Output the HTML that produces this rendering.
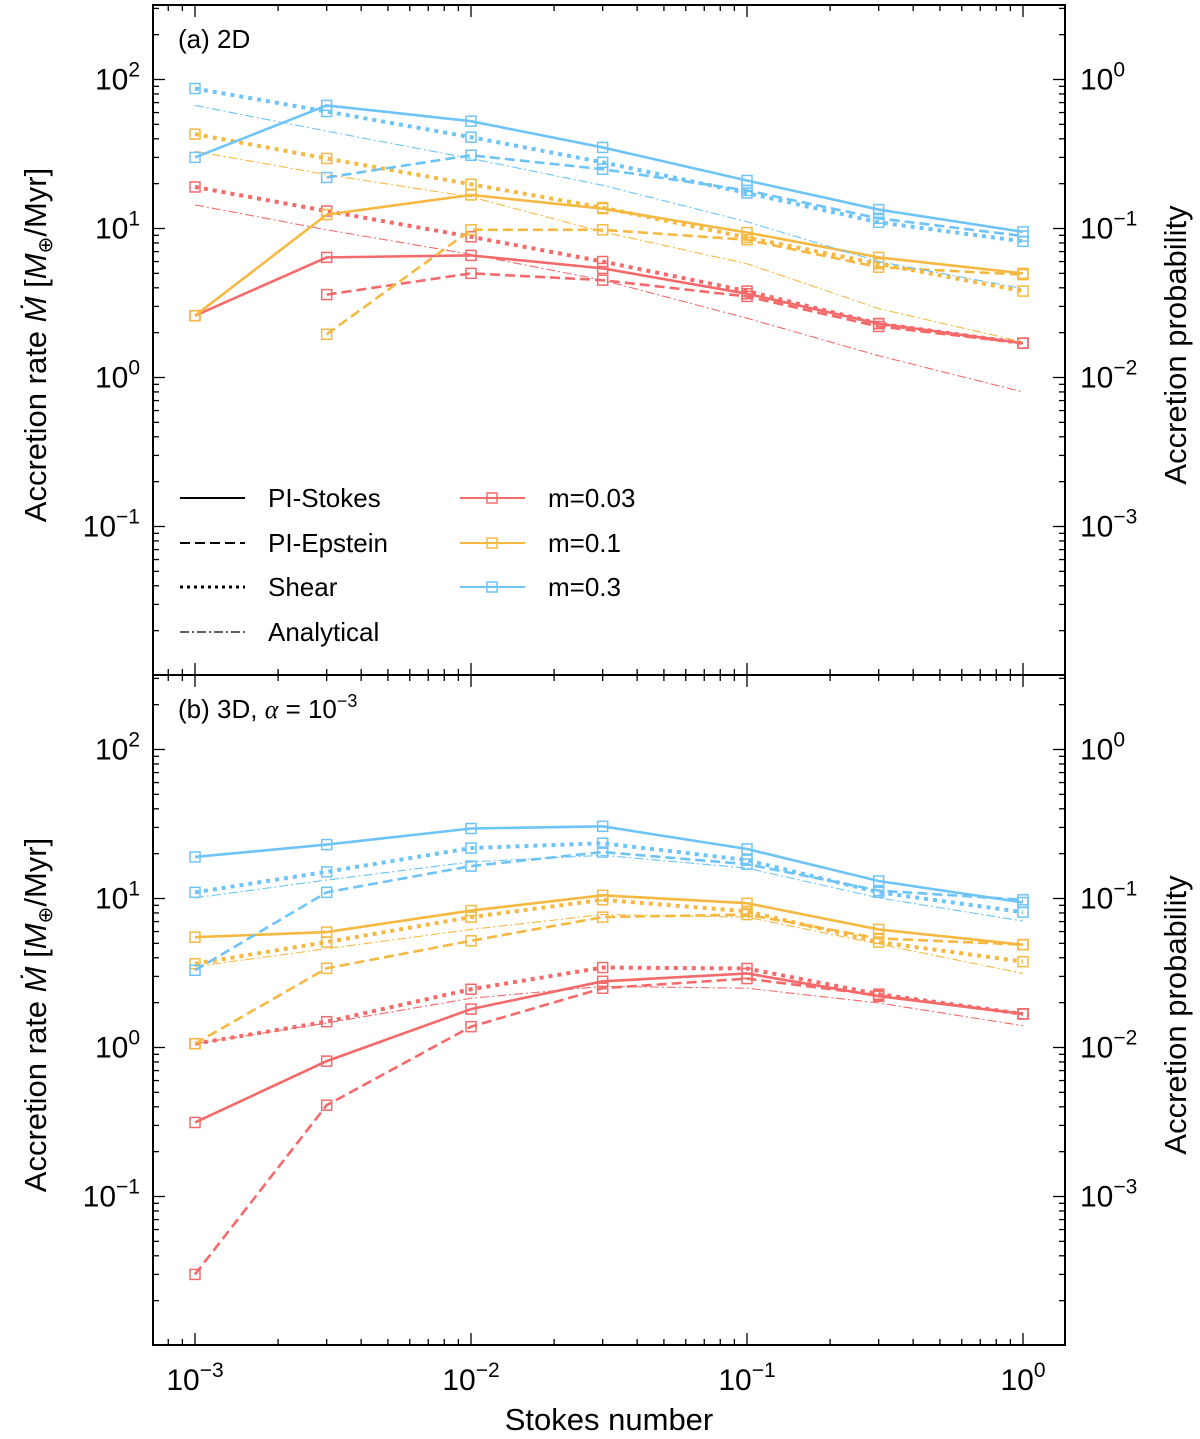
<!DOCTYPE html>
<html><head><meta charset="utf-8">
<style>
body{margin:0;background:#fff;}
svg{display:block;font-family:"Liberation Sans","DejaVu Sans",sans-serif;}
</style></head>
<body>
<svg id="chart" width="1200" height="1439" viewBox="0 0 1200 1439" xmlns="http://www.w3.org/2000/svg"></svg>
<script>
const stokes = [0.001, 0.003, 0.01, 0.03, 0.1, 0.3, 1];
// Panel a (2D)
const a_red_stokes = [2.6, 6.4, 6.6, 5.4, 3.65, 2.3, 1.7];
const a_red_epstein = [null, 3.6, 5.0, 4.5, 3.5, 2.2, 1.7];
const a_red_shear = [19, 13.1, 8.8, 6.0, 3.8, 2.3, 1.7];
const a_red_analytical = [14.4, 9.8, 6.7, 4.5, 2.5, 1.4, 0.8];
const a_orange_stokes = [2.6, 12.4, 16.8, 13.6, 9.4, 6.4, 5.0];
const a_orange_epstein = [null, 1.95, 9.8, 9.8, 8.4, 5.5, 4.9];
const a_orange_shear = [43, 29.5, 19.8, 13.8, 8.7, 5.8, 3.8];
const a_orange_analytical = [33, 23, 16.3, 9.5, 5.8, 2.9, 1.73];
const a_blue_stokes = [30, 67, 52.5, 35, 21, 13.4, 9.5];
const a_blue_epstein = [null, 22, 31, 25, 18, 11.7, 8.9];
const a_blue_shear = [87, 61, 41, 27.8, 17.3, 11, 8.2];
const a_blue_analytical = [67, 45, 29.5, 19.5, 11.1, 6.0, 3.95];
// Panel b (3D)
const b_red_stokes = [0.314, 0.81, 1.81, 2.78, 3.14, 2.21, 1.68];
const b_red_epstein = [0.030, 0.41, 1.38, 2.5, 2.9, 2.24, 1.68];
const b_red_shear = [1.06, 1.49, 2.46, 3.44, 3.39, 2.28, 1.68];
const b_red_analytical = [1.06, 1.46, 2.14, 2.57, 2.5, 1.99, 1.4];
const b_orange_stokes = [5.5, 5.95, 8.3, 10.5, 9.3, 6.2, 4.9];
const b_orange_epstein = [1.06, 3.4, 5.2, 7.5, 7.8, 5.4, 4.9];
const b_orange_shear = [3.65, 5.1, 7.5, 9.8, 8.2, 5.1, 3.77];
const b_orange_analytical = [3.5, 4.6, 6.2, 7.8, 7.5, 4.95, 3.14];
const b_blue_stokes = [19, 23, 29.5, 30.5, 21.5, 13.1, 9.4];
const b_blue_epstein = [3.3, 11, 16.5, 20.5, 17, 11.3, 9.8];
const b_blue_shear = [11, 15.1, 21.8, 23.5, 18.1, 11, 8.1];
const b_blue_analytical = [10.1, 13.3, 17.6, 19.5, 16, 10.1, 7.05];
const xTickExps = [-3, -2, -1, 0];
const yTickExps = [2, 1, 0, -1];
const probTickExps = [0, -1, -2, -3];

const NS = "http://www.w3.org/2000/svg";
const svg = document.getElementById('chart');
const COL = {red:'#f46a6a', orange:'#f5b942', blue:'#6ec4f7'};
const X0 = 153, X1 = 1065;
function xs(v){ return 195 + (Math.log10(v) + 3) * 276; }
function mkY(top){ return v => top + (2.5 - Math.log10(v)) * 149; }
function el(tag, attrs, parent){ const e = document.createElementNS(NS, tag); for (const k in attrs) e.setAttribute(k, attrs[k]); (parent||svg).appendChild(e); return e; }

function supLabel(parent, x, y, exp, anchor, name){
  const t = el('text', {x:x, y:y, 'font-size':30, 'text-anchor':anchor, fill:'#000'}, parent);
  
  
  const b = document.createElementNS(NS,'tspan'); b.textContent='10'; t.appendChild(b);
  const s = document.createElementNS(NS,'tspan'); s.setAttribute('dy','-13'); s.setAttribute('font-size','21'); s.textContent=(exp<0?'\u2212':'')+Math.abs(exp); t.appendChild(s);
  return t;
}

const styles = {
  stokes:{w:2.6, dash:'', marker:true},
  epstein:{w:2.6, dash:'10,5', marker:true},
  shear:{w:4, dash:'4,5', marker:true},
  analytical:{w:1.1, dash:'9,3,2,3', marker:false}
};

function panel(top, data, label, pname){
  const g = el('g', {});
  
  
  const ys = mkY(top), bottom = top + 670;
  const ax = el('rect', {x:X0, y:top, width:X1-X0, height:670, fill:'none', stroke:'#000', 'stroke-width':2}, g);
  
  
  for (let e=-4; e<=0; e++){
    for (let m=1; m<10; m++){
      const v = m*Math.pow(10,e); if (v<0.00072 || v>1.45) continue;
      const x = xs(v), L = m===1?12:6;
      el('line',{x1:x,y1:bottom,x2:x,y2:bottom-L,stroke:'#000','stroke-width':1.3},g);
      el('line',{x1:x,y1:top,x2:x,y2:top+L,stroke:'#000','stroke-width':1.3},g);
    }
  }
  for (let e=-3; e<=2; e++){
    for (let m=1; m<10; m++){
      const v = m*Math.pow(10,e); const y = ys(v);
      if (y<top || y>bottom) continue;
      const L = m===1?12:6;
      el('line',{x1:X0,y1:y,x2:X0+L,y2:y,stroke:'#000','stroke-width':1.3},g);
      el('line',{x1:X1,y1:y,x2:X1-L,y2:y,stroke:'#000','stroke-width':1.3},g);
    }
  }
  yTickExps.forEach(e => supLabel(g, 140, ys(Math.pow(10,e))+10, e, 'end', pname+'-y-tick-label'));
  probTickExps.forEach(e => supLabel(g, 1080, ys(Math.pow(10,e+2))+10, e, 'start', pname+'-prob-tick-label'));
  const yl = el('text',{x:0,y:0,'font-size':31,'text-anchor':'middle',transform:`translate(46,${top+340}) rotate(-90)`},g);
  
  
  yl.innerHTML = 'Accretion rate <tspan font-style="italic">Ṁ</tspan> [<tspan font-style="italic">M</tspan><tspan font-size="20" dy="6">⊕</tspan><tspan dy="-6">/Myr]</tspan>';
  const yr = el('text',{x:0,y:0,'font-size':31,'text-anchor':'middle',transform:`translate(1186,${top+340}) rotate(-90)`},g);
  
  
  yr.textContent = 'Accretion probability';
  const pl = el('text',{x:178,y:top+43,'font-size':26},g);
  
  
  pl.innerHTML = label;
  const clip = 'clip'+pname;
  const cp = el('clipPath',{id:clip},g); el('rect',{x:X0,y:top,width:X1-X0,height:670},cp);
  const sg = el('g',{'clip-path':`url(#${clip})`},g);
  data.forEach(s => {
    const st = styles[s.kind];
    const pts = []; s.vals.forEach((v,i)=>{ if (v!=null) pts.push([xs(stokes[i]), ys(v)]); });
    const pl = el('polyline',{points:pts.map(p=>p.join(',')).join(' '),fill:'none',stroke:COL[s.color],'stroke-width':st.w,'stroke-dasharray':st.dash},sg);
    
    
    if (st.marker) pts.forEach(p => {
      const r = el('rect',{x:p[0]-5,y:p[1]-5,width:10,height:10,fill:'none',stroke:COL[s.color],'stroke-width':1.5},sg);
      
      
    });
  });
  return g;
}

function build(prefix, src){
  const out = [];
  ['red','orange','blue'].forEach(c => ['analytical','stokes','epstein','shear'].forEach(k => out.push({color:c, kind:k, vals:src[prefix+'_'+c+'_'+k]})));
  return out;
}
const srcA = {a_red_stokes,a_red_epstein,a_red_shear,a_red_analytical,a_orange_stokes,a_orange_epstein,a_orange_shear,a_orange_analytical,a_blue_stokes,a_blue_epstein,a_blue_shear,a_blue_analytical};
const srcB = {b_red_stokes,b_red_epstein,b_red_shear,b_red_analytical,b_orange_stokes,b_orange_epstein,b_orange_shear,b_orange_analytical,b_blue_stokes,b_blue_epstein,b_blue_shear,b_blue_analytical};
panel(5, build('a', srcA), '(a) 2D', 'panel-a');
panel(675, build('b', srcB), '(b) 3D, <tspan font-style="italic" font-family="Liberation Serif">α</tspan> = 10<tspan dy="-11" font-size="18">−3</tspan>', 'panel-b');

xTickExps.forEach(e => supLabel(svg, xs(Math.pow(10,e)), 1390, e, 'middle', 'x-tick-label'));
const xt = el('text',{x:609,y:1430,'font-size':31,'text-anchor':'middle'});


xt.textContent = 'Stokes number';

const lg = el('g',{});


[['stokes','PI-Stokes',498],['epstein','PI-Epstein',543],['shear','Shear',587],['analytical','Analytical',632]].forEach(([k,t,y]) => {
  const st = styles[k];
  const l = el('line',{x1:180,y1:y,x2:245,y2:y,stroke:'#000','stroke-width':k==='analytical'?1.3:(k==='shear'?3:2),'stroke-dasharray':k==='analytical'?'9,3,2,3':(k==='shear'?'3,4':st.dash)},lg);
  
  
  const tx = el('text',{x:268,y:y+9,'font-size':26},lg); tx.textContent = t;
});
[['red','m=0.03',498],['orange','m=0.1',543],['blue','m=0.3',587]].forEach(([c,t,y]) => {
  const l = el('line',{x1:460,y1:y,x2:525,y2:y,stroke:COL[c],'stroke-width':2},lg);
  
  
  el('rect',{x:487,y:y-5,width:10,height:10,fill:'none',stroke:COL[c],'stroke-width':1.5},lg);
  const tx = el('text',{x:548,y:y+9,'font-size':26},lg); tx.textContent = t;
});
</script>
</body></html>
